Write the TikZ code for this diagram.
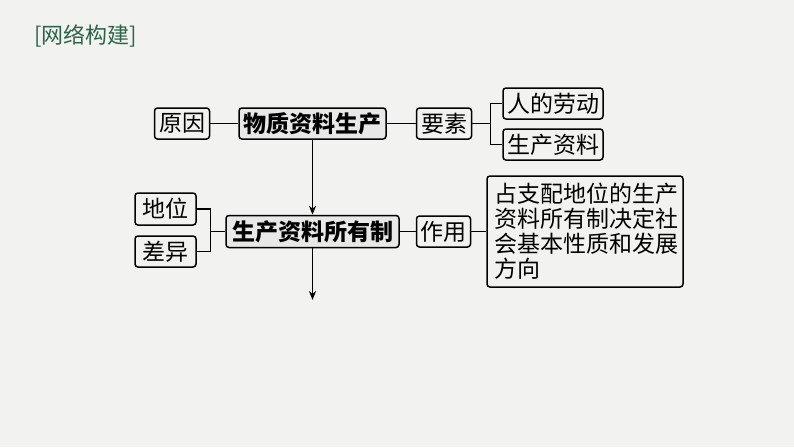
\documentclass[tikz,border=0pt]{standalone}
\usepackage{fontspec}
\setmainfont{Noto Sans CJK SC}
\usepackage{tikz}
\usetikzlibrary{arrows.meta,positioning}
\definecolor{paper}{HTML}{F2F2F0}
\definecolor{titlegreen}{HTML}{2D6448}

\begin{document}
\begin{tikzpicture}[x=1pt,y=-1pt,>={Stealth[length=9pt,width=7pt]},line width=1.5pt,
	leaf/.style={shape=rectangle,draw,rounded corners=3pt,inner sep=0pt,minimum height=31pt,font=\fontsize{23pt}{25pt}\selectfont},
	core/.style={leaf,fill=black!9,font=\fontsize{23pt}{25pt}\selectfont\bfseries}]
					\useasboundingbox[fill=paper] (0,0) rectangle (794,447);
					\node (title) [anchor=west,text=titlegreen,font=\fontsize{22pt}{25pt}\selectfont] at (30,36) {[网络构建]};

					\node (produce) [core,minimum width=147pt] at (312.5,123.5) {物质资料生产};
					\node (cause) [leaf,minimum width=55pt] [left=28pt of produce] {原因};
					\node (factor) [leaf,minimum width=55pt] [right=29pt of produce] {要素};
					\node (labour) [leaf,minimum width=100pt] at (553,103.5) {人的劳动};
					\node (means) [leaf,minimum width=100pt] at (553,144.5) {生产资料};

					\node (ownership) [core,minimum width=173pt,minimum height=32pt] [below=75pt of produce] {生产资料所有制};
					\node (status) [leaf,minimum width=61pt,minimum height=32pt] at (165.5,209) {地位};
					\node (differ) [leaf,minimum width=61pt,minimum height=31pt] at (165.5,251.5) {差异};
					\node (role) [leaf,minimum width=54pt] [right=16pt of ownership] {作用};
					\node (effect) [leaf,minimum width=196pt,minimum height=111pt,text width=182pt,align=left] [right=15pt of role] {占支配地位的生产\\资料所有制决定社\\会基本性质和发展\\方向};
					\coordinate (down) at (312.5,300);

					\draw (cause) -- (produce);
					\draw (produce) -- (factor);
					\draw (factor.east) -- ++(18pt,0) |- (labour.west);
					\draw (factor.east) -- ++(18pt,0) |- (means.west);
					\draw[->] (produce) -- (ownership);
					\draw (ownership.west) -- ++(-15pt,0) |- (status.east);
					\draw (ownership.west) -- ++(-15pt,0) |- (differ.east);
					\draw (ownership) -- (role);
					\draw (role) -- (effect);
					\draw[->] (ownership) -- (down);
				\end{tikzpicture}
\end{document}
